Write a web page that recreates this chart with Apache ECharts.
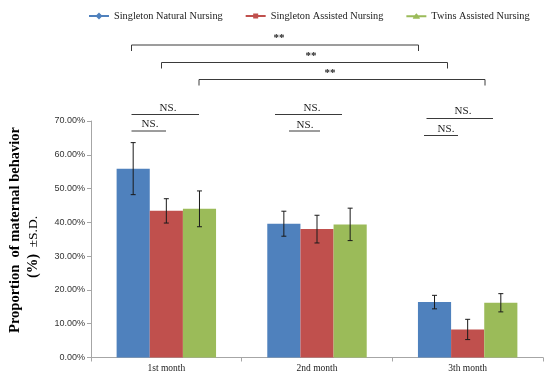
<!DOCTYPE html>
<html>
<head>
<meta charset="utf-8">
<script src="https://cdn.jsdelivr.net/npm/echarts@6/dist/echarts.min.js"></script>
<style>html,body{margin:0;padding:0;background:#fff}#c{width:550px;height:377px}</style>
</head>
<body>
<div id="c"></div>
<script>
const categories = ['1st month', '2nd month', '3th month'];
const seriesNames = ['Singleton Natural Nursing', 'Singleton Assisted Nursing', 'Twins Assisted Nursing'];
const naturalSingleton = [55.9, 39.6, 16.4];
const naturalSingletonSD = [7.7, 3.7, 2.0];
const assistedSingleton = [43.4, 38.0, 8.3];
const assistedSingletonSD = [3.6, 4.1, 3.0];
const assistedTwins = [44.0, 39.4, 16.2];
const assistedTwinsSD = [5.3, 4.8, 2.7];
const yTicks = [0, 10, 20, 30, 40, 50, 60, 70];

const colors = ['#4F81BD', '#C0504D', '#9BBB59'];
const FONT = 'Liberation Serif';
const CAT_GAP = 0.34;

const values = [naturalSingleton, assistedSingleton, assistedTwins];
const sds = [naturalSingletonSD, assistedSingletonSD, assistedTwinsSD];

const icons = [
  'path://M0,2.5H7.5L10,0L12.5,2.5H20V4.5H12.5L10,7L7.5,4.5H0Z',
  'path://M0,2.5H7.5V1H12.5V2.5H20V4.5H12.5V6H7.5V4.5H0Z',
  'path://M0,2.5H8.2L10,0.5L11.8,2.5H20V4.5H13L13.6,5.8H6.4L7,4.5H0Z'
];

const errData = [];
values.forEach((arr, si) => arr.forEach((v, ci) => errData.push([ci, v, sds[si][ci], si])));

function renderErr(params, api) {
  const ci = api.value(0), v = api.value(1), sd = api.value(2), si = api.value(3);
  const catW = api.size([1, 0])[0];
  const bw = catW * (1 - CAT_GAP) / 3;
  const x = api.coord([ci, v])[0] + (si - 1) * bw;
  const yt = api.coord([ci, v + sd])[1];
  const yb = api.coord([ci, v - sd])[1];
  const c = 2.5;
  const st = { stroke: '#1a1a1a', lineWidth: 1 };
  return {
    type: 'group',
    children: [
      { type: 'line', shape: { x1: x, y1: yt, x2: x, y2: yb }, style: st },
      { type: 'line', shape: { x1: x - c, y1: yt, x2: x + c, y2: yt }, style: st },
      { type: 'line', shape: { x1: x - c, y1: yb, x2: x + c, y2: yb }, style: st }
    ]
  };
}

// significance annotations (pixel layout)
const brackets = [
  { x1: 131.5, x2: 418.5, y: 45, tx: 279, ty: 38.5 },
  { x1: 161.5, x2: 447.5, y: 62.5, tx: 311, ty: 56 },
  { x1: 199, x2: 485, y: 79.5, tx: 330, ty: 73 }
];
const nsLines = [
  { x1: 131.5, x2: 199, y: 114.5, tx: 168, ty: 108 },
  { x1: 131.5, x2: 166, y: 131, tx: 150, ty: 124.5 },
  { x1: 275, x2: 342, y: 114.5, tx: 312, ty: 108 },
  { x1: 289, x2: 320, y: 131, tx: 305, ty: 125 },
  { x1: 426.5, x2: 493, y: 118.5, tx: 463, ty: 111.5 },
  { x1: 424, x2: 458, y: 135.5, tx: 446, ty: 129 }
];

const graphics = [];
const lineStyle = { stroke: '#3a3a3a', lineWidth: 1 };
brackets.forEach(b => {
  graphics.push({ type: 'polyline', shape: { points: [[b.x1, b.y + 6], [b.x1, b.y], [b.x2, b.y], [b.x2, b.y + 6]] }, style: Object.assign({ fill: null }, lineStyle) });
  graphics.push({ type: 'text', x: b.tx, y: b.ty, style: { text: '**', font: 'bold 11px "' + FONT + '"', fill: '#222', textAlign: 'center', textVerticalAlign: 'middle' } });
});
nsLines.forEach(n => {
  graphics.push({ type: 'line', shape: { x1: n.x1, y1: n.y, x2: n.x2, y2: n.y }, style: lineStyle });
  graphics.push({ type: 'text', x: n.tx, y: n.ty, style: { text: 'NS.', font: '11px "' + FONT + '"', fill: '#222', textAlign: 'center', textVerticalAlign: 'middle' } });
});
graphics.push({ type: 'text', x: 15, y: 230, rotation: Math.PI / 2, style: { text: 'Proportion  of maternal behavior', font: 'bold 14.5px "' + FONT + '"', fill: '#000', textAlign: 'center', textVerticalAlign: 'middle' } });
graphics.push({ type: 'text', x: 33, y: 247, rotation: Math.PI / 2, style: { text: '{b|(%)}  {n|\u00b1S.D.}', fill: '#000', textAlign: 'center', textVerticalAlign: 'middle', rich: { b: { fontFamily: FONT, fontWeight: 'bold', fontSize: 14.5 }, n: { fontFamily: FONT, fontSize: 13.5 } } } });

const series = values.map((arr, si) => ({
  name: seriesNames[si],
  type: 'bar',
  data: arr,
  barGap: '0%',
  barCategoryGap: (CAT_GAP * 100) + '%',
  itemStyle: { color: colors[si] }
}));
series.push({
  type: 'custom',
  name: 'err',
  renderItem: renderErr,
  data: errData,
  encode: { x: 0, y: 1 },
  z: 10,
  silent: true
});

const chart = echarts.init(document.getElementById('c'), null, { renderer: 'canvas' });
chart.setOption({
  animation: false,
  color: colors,
  legend: {
    data: seriesNames.map((n, i) => ({ name: n, icon: icons[i] })),
    left: 84,
    top: 6,
    itemWidth: 20,
    itemHeight: 7,
    itemGap: 23,
    textStyle: { fontFamily: FONT, fontSize: 10.3, color: '#222' }
  },
  grid: { left: 91, right: 7, top: 121, bottom: 19.5 },
  xAxis: {
    type: 'category',
    data: categories,
    axisLine: { lineStyle: { color: '#a6a6a6' } },
    axisTick: { show: true, length: 4, lineStyle: { color: '#a6a6a6' } },
    axisLabel: { fontFamily: FONT, fontSize: 9.5, color: '#222', margin: 6 }
  },
  yAxis: {
    type: 'value',
    min: yTicks[0],
    max: yTicks[yTicks.length - 1],
    interval: 10,
    splitLine: { show: false },
    axisLine: { show: true, lineStyle: { color: '#a6a6a6' } },
    axisTick: { show: true, length: 4, lineStyle: { color: '#a6a6a6' } },
    axisLabel: { fontFamily: 'Liberation Sans', fontSize: 9, color: '#333', margin: 6, formatter: v => v.toFixed(2) + '%' }
  },
  graphic: graphics,
  series: series
});
</script>
</body>
</html>
